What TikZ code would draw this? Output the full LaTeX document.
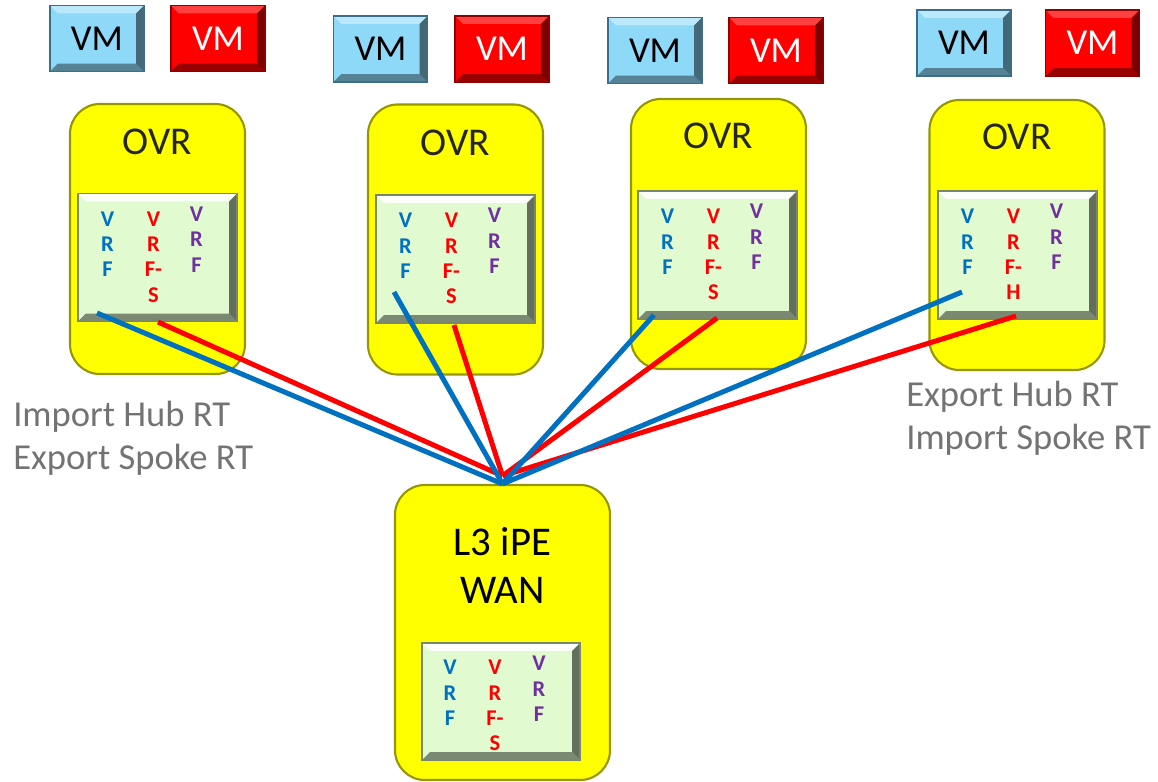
\documentclass[tikz,border=0pt]{standalone}
\usepackage{fontspec}
\setmainfont{Carlito}
\usetikzlibrary{positioning}
\definecolor{vmcyan}{RGB}{142,216,248}
\definecolor{vmcyanedge}{RGB}{60,110,140}
\definecolor{vmredfill}{RGB}{255,0,0}
\definecolor{vmrededge}{RGB}{140,0,0}
\definecolor{ovryellow}{RGB}{255,255,0}
\definecolor{ovredge}{RGB}{150,150,0}
\definecolor{vrfgreen}{RGB}{226,250,208}
\definecolor{vrfedge}{RGB}{120,135,110}
\definecolor{vrfblue}{RGB}{0,112,192}
\definecolor{vrfred}{RGB}{255,0,0}
\definecolor{vrfpurple}{RGB}{112,48,160}
\definecolor{ovrtext}{RGB}{38,38,38}
\definecolor{rtgray}{RGB}{115,115,115}
\tikzset{
    bevel/.style 2 args={ % #1 = light edge, #2 = dark edge
        path picture={
            \fill[#1] (path picture bounding box.north west) -- (path picture bounding box.north east)
                -- ([shift={(-0.2cm,-0.2cm)}]path picture bounding box.north east)
                -- ([shift={(0.2cm,-0.2cm)}]path picture bounding box.north west) -- cycle;
            \fill[#2] (path picture bounding box.south west) -- (path picture bounding box.south east)
                -- ([shift={(-0.2cm,0.2cm)}]path picture bounding box.south east)
                -- ([shift={(0.2cm,0.2cm)}]path picture bounding box.south west) -- cycle;
            \fill[#2!80!black] (path picture bounding box.north east) -- (path picture bounding box.south east)
                -- ([shift={(-0.2cm,0.2cm)}]path picture bounding box.south east)
                -- ([shift={(-0.2cm,-0.2cm)}]path picture bounding box.north east) -- cycle;
        }
    },
    vmbox/.style={draw, line width=0.8pt, minimum width=2.35cm, minimum height=1.65cm,
        inner sep=0pt, font=\fontsize{26}{30}\selectfont},
    vmblue/.style={vmbox, fill=vmcyan, draw=vmcyanedge, text=black,
        bevel={vmcyan!60!white}{vmcyan!60!black}},
    vmred/.style={vmbox, fill=vmredfill, draw=vmrededge, text=white,
        bevel={vmredfill!75!white}{vmredfill!60!black}},
    ovrbox/.style={draw=ovredge, line width=1.5pt, fill=ovryellow, rounded corners=0.75cm,
        minimum width=4.375cm, minimum height=6.75cm},
    vrfbox/.style={draw=vrfedge, line width=0.8pt, fill=vrfgreen,
        minimum width=3.975cm, minimum height=3.2cm,
        bevel={white!90!vrfgreen}{vrfgreen!55!black}},
    vrfcol/.style={inner sep=0pt, align=center, anchor=north,
        font=\bfseries\fontsize{16}{18}\selectfont},
    ovrlabel/.style={text=ovrtext, font=\fontsize{28}{32}\selectfont},
    rtlabel/.style={text=rtgray, align=left, anchor=west, inner sep=0pt,
        font=\fontsize{26}{30.6}\selectfont},
    bline/.style={draw=vrfblue, line width=0.125cm},
    rline/.style={draw=vrfred, line width=0.125cm}
}
\begin{document}
\begin{tikzpicture}[x=0.025cm, y=-0.025cm]
\useasboundingbox (0,0) rectangle (1158,782);

% ===============================
%              VMs
% ===============================

\node[vmblue] (vm1b) at (97,38.5) {VM};
\node[vmred] (vm1r) at (218,38.5) {VM};
\node[vmblue] (vm2b) at (380.5,49) {VM};
\node[vmred] (vm2r) at (502,49) {VM};
\node[vmblue] (vm3b) at (655,50.5) {VM};
\node[vmred] (vm3r) at (776,50.5) {VM};
\node[vmblue] (vm4b) at (964,43) {VM};
\node[vmred] (vm4r) at (1092.5,43) {VM};

% ===============================
%            OVR boxes
% ===============================

\node[ovrbox] (ovr1) at (157.5,239) {};
\node[ovrbox] (ovr2) at (455.5,239.5) {};
\node[ovrbox] (ovr3) at (718.5,234) {};
\node[ovrbox] (ovr4) at (1017,235) {};

\node[ovrlabel] at ([yshift=-0.975cm]ovr1.north) {OVR};
\node[ovrlabel] at ([yshift=-0.975cm]ovr2.north) {OVR};
\node[ovrlabel] at ([yshift=-0.95cm]ovr3.north) {OVR};
\node[ovrlabel] at ([yshift=-0.95cm]ovr4.north) {OVR};

\node[vrfbox] (vrf1) at (157.5,257.5) {};
\node[vrfbox] (vrf2) at (455.5,259) {};
\node[vrfbox] (vrf3) at (717.5,255) {};
\node[vrfbox] (vrf4) at (1017.5,255) {};

% ===============================
%            WAN box
% ===============================

\node[ovrbox, minimum width=5.375cm, minimum height=7.375cm] (wan) at (502.5,632.5) {};
\node[align=center, font=\fontsize{29}{34}\selectfont] (wantext)
    at ([yshift=-2.03cm]wan.north) {L3 iPE\\WAN};
\node[vrfbox, minimum width=3.95cm, minimum height=2.925cm] (vrfw) at (501,701.5) {};

% ===============================
%          VRF columns
% ===============================

\node[vrfcol, text=vrfblue] (c1b) at ([xshift=-1.25cm,yshift=-0.46cm]vrf1.north) {V\\R\\F};
\node[vrfcol, text=vrfred] (c1r) at ([xshift=-0.1cm,yshift=-0.46cm]vrf1.north) {V\\R\\F-\\S};
\node[vrfcol, text=vrfpurple] (c1p) at ([xshift=0.975cm,yshift=-0.34cm]vrf1.north) {V\\R\\F};

\node[vrfcol, text=vrfblue] (c2b) at ([xshift=-1.25cm,yshift=-0.46cm]vrf2.north) {V\\R\\F};
\node[vrfcol, text=vrfred] (c2r) at ([xshift=-0.1cm,yshift=-0.46cm]vrf2.north) {V\\R\\F-\\S};
\node[vrfcol, text=vrfpurple] (c2p) at ([xshift=0.975cm,yshift=-0.34cm]vrf2.north) {V\\R\\F};

\node[vrfcol, text=vrfblue] (c3b) at ([xshift=-1.25cm,yshift=-0.46cm]vrf3.north) {V\\R\\F};
\node[vrfcol, text=vrfred] (c3r) at ([xshift=-0.1cm,yshift=-0.46cm]vrf3.north) {V\\R\\F-\\S};
\node[vrfcol, text=vrfpurple] (c3p) at ([xshift=0.975cm,yshift=-0.34cm]vrf3.north) {V\\R\\F};

\node[vrfcol, text=vrfblue] (c4b) at ([xshift=-1.25cm,yshift=-0.46cm]vrf4.north) {V\\R\\F};
\node[vrfcol, text=vrfred] (c4r) at ([xshift=-0.1cm,yshift=-0.46cm]vrf4.north) {V\\R\\F-\\H};
\node[vrfcol, text=vrfpurple] (c4p) at ([xshift=0.975cm,yshift=-0.34cm]vrf4.north) {V\\R\\F};

\node[vrfcol, text=vrfblue] (cwb) at ([xshift=-1.275cm,yshift=-0.44cm]vrfw.north) {V\\R\\F};
\node[vrfcol, text=vrfred] (cwr) at ([xshift=-0.15cm,yshift=-0.44cm]vrfw.north) {V\\R\\F-\\S};
\node[vrfcol, text=vrfpurple] (cwp) at ([xshift=0.95cm,yshift=-0.34cm]vrfw.north) {V\\R\\F};

% ===============================
%              links
% ===============================

\coordinate (hub) at (wan.north);
\coordinate (hubr) at ([yshift=0.2cm]wan.north);

\coordinate (b1) at (97,313);
\coordinate (r1) at (158,322);
\coordinate (b2) at (394,292);
\coordinate (r2) at (454,325);
\coordinate (b3) at (654,315);
\coordinate (r3) at (717,318);
\coordinate (b4) at (962,292);
\coordinate (r4) at (1016,316);

\draw[rline] (r1) -- (hubr);
\draw[rline] (r2) -- (hubr);
\draw[rline] (r3) -- (hubr);
\draw[rline] (r4) -- (hubr);

\draw[bline] (b1) -- (hub);
\draw[bline] (b2) -- (hub);
\draw[bline] (b3) -- (hub);
\draw[bline] (b4) -- (hub);

% ===============================
%              labels
% ===============================

\node[rtlabel] (rtleft) at (13,438) {Import Hub RT\\Export Spoke RT};
\node[rtlabel] (rtright) at (906,418.5) {Export Hub RT\\Import Spoke RT};

\end{tikzpicture}
\end{document}
